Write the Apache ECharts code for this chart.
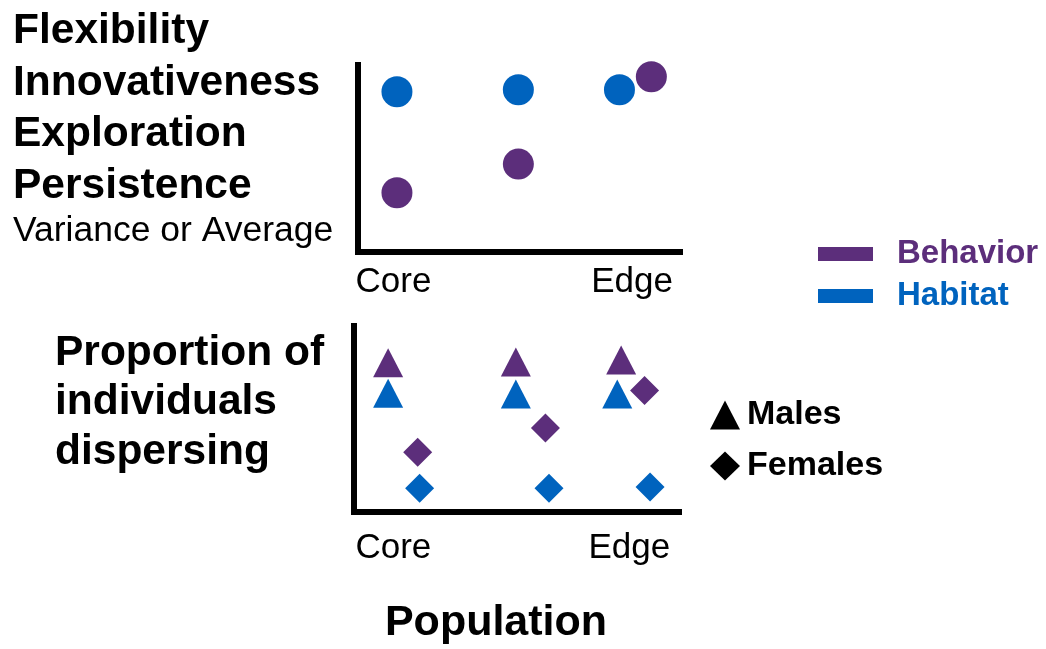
<!DOCTYPE html>
<html><head><meta charset="utf-8">
<script src="https://cdn.jsdelivr.net/npm/echarts@6/dist/echarts.min.js"></script>
<style>html,body{margin:0;padding:0;background:#fff}#c{width:1046px;height:649px}</style>
</head><body><div id="c"></div>
<script>
// ---- data (x: 0 = Core side, 100 = Edge side; y: 0..100 relative level) ----
const topBehavior = [[12.1, 31.7], [49.8, 47.0], [91.1, 93.7]];
const topHabitat = [[12.1, 85.7], [49.8, 86.8], [81.2, 86.8]];
const malesBehavior = [[10.5, 80.2], [49.8, 80.6], [82.2, 81.7]];
const malesHabitat = [[10.5, 63.9], [49.8, 63.4], [81.0, 63.4]];
const femalesBehavior = [[19.6, 32.1], [58.9, 45.1], [89.4, 65.3]];
const femalesHabitat = [[20.2, 12.8], [60.0, 12.8], [91.1, 13.4]];
const topTickValues = [11.0, 85.1];
const bottomTickValues = [12.1, 84.7];
const tickLabels = ['Core', 'Edge'];
const topLeftLines = ['Flexibility', 'Innovativeness', 'Exploration', 'Persistence'];
const topLeftSub = 'Variance or Average';
const bottomLeftLines = ['Proportion of', 'individuals', 'dispersing'];
const xTitle = 'Population';
const colorLegend = ['Behavior', 'Habitat'];
const shapeLegend = ['Males', 'Females'];

const PURPLE = '#5c2e7b', BLUE = '#0063be';
const FONT = "'Liberation Sans', Arial, Helvetica, sans-serif";

const chart = echarts.init(document.getElementById('c'), null, {renderer: 'canvas'});

function xAx(grid, ticks, margin) {
  return {
    gridIndex: grid, type: 'value', min: 0, max: 100,
    splitLine: {show: false}, axisTick: {show: false},
    axisLine: {show: true, onZero: false, lineStyle: {color: '#000', width: 6, cap: 'square'}},
    axisLabel: {
      customValues: ticks, margin: margin, fontSize: 35, color: '#000', fontFamily: FONT,
      formatter: v => { const i = ticks.findIndex(t => Math.abs(t - v) < 1e-6); return i >= 0 ? tickLabels[i] : ''; }
    }
  };
}
function yAx(grid) {
  return {
    gridIndex: grid, type: 'value', min: 0, max: 100,
    splitLine: {show: false}, axisTick: {show: false}, axisLabel: {show: false},
    axisLine: {show: true, onZero: false, lineStyle: {color: '#000', width: 6, cap: 'square'}}
  };
}
const colored = (arr, c) => arr.map(p => ({value: p, itemStyle: {color: c}}));

const graphics = [];
const topY = [31, 83, 134, 186];
topLeftLines.forEach((t, i) => graphics.push({type: 'text', x: 13, y: topY[i],
  style: {text: t, fontSize: 42.5, fontWeight: 'bold', fontFamily: FONT, fill: '#000', align: 'left', verticalAlign: 'middle'}}));
graphics.push({type: 'text', x: 13, y: 231,
  style: {text: topLeftSub, fontSize: 35.5, fontFamily: FONT, fill: '#000', align: 'left', verticalAlign: 'middle'}});
const botY = [353.5, 402.5, 452];
bottomLeftLines.forEach((t, i) => graphics.push({type: 'text', x: 55, y: botY[i],
  style: {text: t, fontSize: 42.5, fontWeight: 'bold', fontFamily: FONT, fill: '#000', align: 'left', verticalAlign: 'middle'}}));
graphics.push({type: 'text', x: 496, y: 623,
  style: {text: xTitle, fontSize: 43, fontWeight: 'bold', fontFamily: FONT, fill: '#000', align: 'center', verticalAlign: 'middle'}});

chart.setOption({
  backgroundColor: '#fff',
  animation: false,
  grid: [
    {left: 358, top: 65, right: 366, bottom: 397},
    {left: 354, top: 326, right: 367, bottom: 137}
  ],
  xAxis: [xAx(0, topTickValues, 13), xAx(1, bottomTickValues, 19)],
  yAxis: [yAx(0), yAx(1)],
  legend: [
    {
      orient: 'vertical', left: 818, top: 236, padding: 0, itemGap: 6,
      itemWidth: 55, itemHeight: 14, icon: 'rect', selectedMode: false,
      data: [
        {name: colorLegend[0], textStyle: {color: PURPLE}},
        {name: colorLegend[1], textStyle: {color: BLUE}}
      ],
      textStyle: {fontSize: 33, fontWeight: 'bold', fontFamily: FONT, lineHeight: 34, padding: [2, 0, 0, 19]}
    },
    {
      orient: 'vertical', left: 710, top: 398, padding: 0, itemGap: 17,
      itemWidth: 30, itemHeight: 29, selectedMode: false,
      data: shapeLegend,
      textStyle: {fontSize: 34, fontWeight: 'bold', fontFamily: FONT, color: '#000', lineHeight: 30, padding: [1, 0, 0, 2]}
    }
  ],
  graphic: graphics,
  series: [
    {name: colorLegend[0], type: 'scatter', xAxisIndex: 0, yAxisIndex: 0, symbol: 'circle', symbolSize: 31,
     itemStyle: {color: PURPLE, opacity: 1}, data: topBehavior},
    {name: colorLegend[1], type: 'scatter', xAxisIndex: 0, yAxisIndex: 0, symbol: 'circle', symbolSize: 31,
     itemStyle: {color: BLUE, opacity: 1}, data: topHabitat},
    {name: shapeLegend[0], type: 'scatter', xAxisIndex: 1, yAxisIndex: 1, symbol: 'triangle', symbolSize: [30, 29],
     itemStyle: {color: '#000', opacity: 1},
     data: colored(malesBehavior, PURPLE).concat(colored(malesHabitat, BLUE))},
    {name: shapeLegend[1], type: 'scatter', xAxisIndex: 1, yAxisIndex: 1, symbol: 'diamond', symbolSize: [29, 29],
     itemStyle: {color: '#000', opacity: 1},
     data: colored(femalesBehavior, PURPLE).concat(colored(femalesHabitat, BLUE))}
  ]
});
</script>
</body></html>
